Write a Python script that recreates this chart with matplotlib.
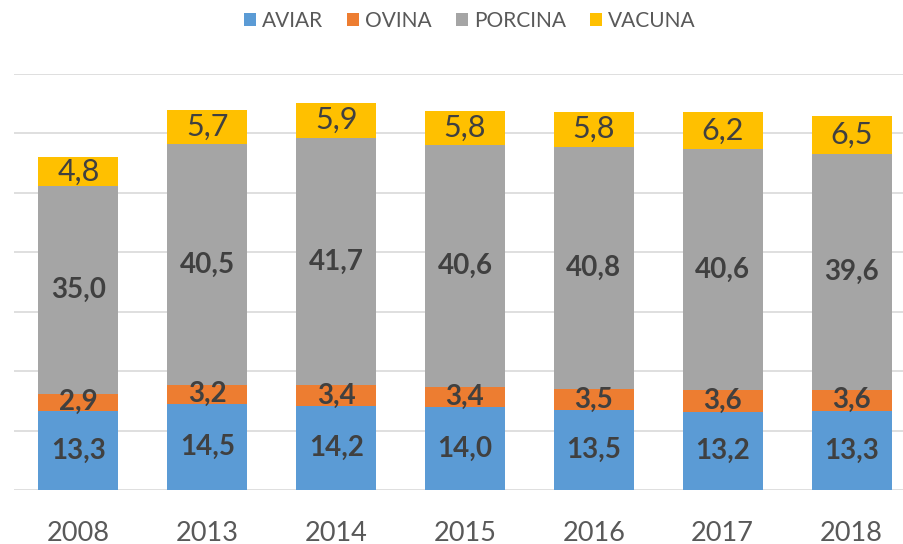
import matplotlib
matplotlib.use("Agg")
import matplotlib.pyplot as plt
import numpy as np

years = ["2008", "2013", "2014", "2015", "2016", "2017", "2018"]
series_names = ["AVIAR", "OVINA", "PORCINA", "VACUNA"]
aviar = [13.3, 14.5, 14.2, 14.0, 13.5, 13.2, 13.3]
ovina = [2.9, 3.2, 3.4, 3.4, 3.5, 3.6, 3.6]
porcina = [35.0, 40.5, 41.7, 40.6, 40.8, 40.6, 39.6]
vacuna = [4.8, 5.7, 5.9, 5.8, 5.8, 6.2, 6.5]
colors = ["#5B9BD5", "#ED7D31", "#A5A5A5", "#FFC000"]

plt.rcParams['font.family'] = ['Lato', 'DejaVu Sans']

W, H = 904, 544
fig = plt.figure(figsize=(W / 100, H / 100), dpi=100)
ax = fig.add_axes([14 / W, (H - 490) / H, 902 / W, 416 / H])

x = np.arange(len(years))
bottom = np.zeros(len(years))
data = [aviar, ovina, porcina, vacuna]
bars = []
for name, vals, col in zip(series_names, data, colors):
    vals = np.array(vals)
    b = ax.bar(x, vals, 0.62, bottom=bottom, color=col, label=name, zorder=3,
               edgecolor='none')
    bars.append(b)
    for xi, v, bt in zip(x, vals, bottom):
        bold = name != "VACUNA"
        ax.text(xi, bt + v / 2, f"{v:.1f}".replace(".", ","),
                ha='center', va='center', fontsize=20 if bold else 22,
                fontweight='bold' if bold else 'normal', color='#404040', zorder=4)
    bottom = bottom + vals

ax.set_xlim(-0.5, len(years) - 0.5)
ax.set_ylim(0, 70)
ax.set_yticks(np.arange(0, 71, 10))
ax.yaxis.grid(True, color='#D9D9D9', linewidth=1.2, zorder=0)
ax.set_yticklabels([])
ax.tick_params(axis='y', length=0)
ax.set_xticks(x)
ax.set_xticklabels(years, fontsize=19.5, color='#595959')
ax.tick_params(axis='x', length=0, pad=22)
for s in ax.spines.values():
    s.set_visible(False)

fig.legend(handles=bars, labels=series_names, loc='center',
           bbox_to_anchor=(470 / W, 1 - 21 / H), ncol=4, frameon=False,
           fontsize=15, labelcolor='#595959', handlelength=0.57,
           handleheight=0.57, handletextpad=0.3, columnspacing=1.15)

fig.savefig("out.png", dpi=100)
